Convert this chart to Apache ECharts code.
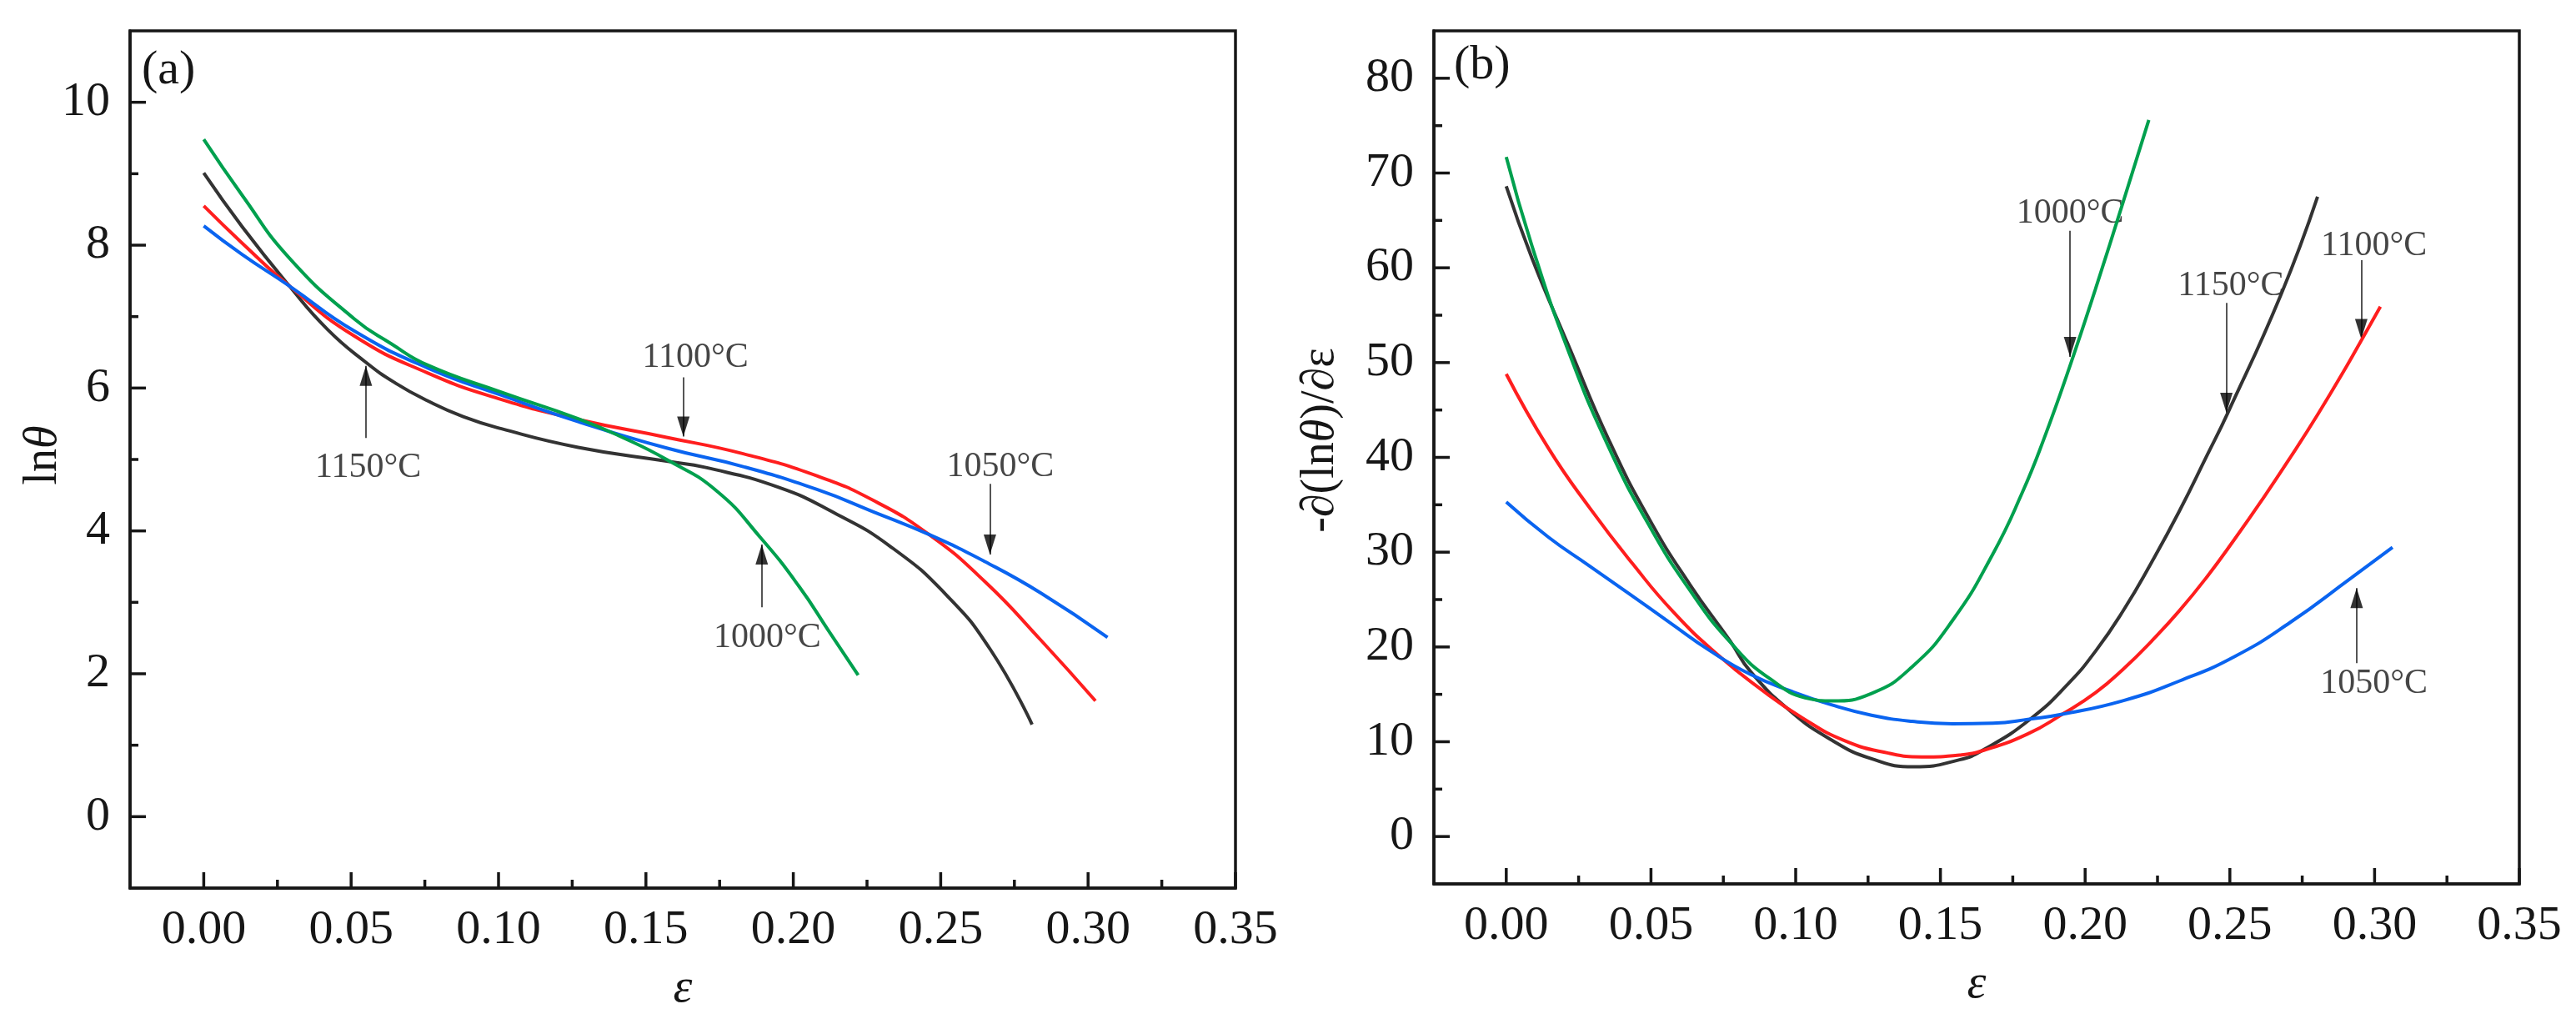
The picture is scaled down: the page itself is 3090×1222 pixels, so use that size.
<!DOCTYPE html>
<html>
<head>
<meta charset="utf-8">
<script src="https://cdn.jsdelivr.net/npm/echarts@6/dist/echarts.min.js"></script>
<style>
html, body { margin: 0; padding: 0; background: #fff; }
#main { width: 3090px; height: 1222px; }
</style>
</head>
<body>
<div id="main"></div>
<script>
// (a) ln(theta) vs strain, [strain, value]
var lnTheta1000 = [[0,9.48],[0.013,8.70],[0.029,7.82],[0.051,6.97],[0.0636,6.62],[0.076,6.32],[0.101,5.94],[0.127,5.57],[0.142,5.31],[0.157,5.00],[0.174,4.56],[0.189,3.90],[0.202,3.22],[0.212,2.60],[0.222,1.98]];
var lnTheta1050 = [[0,8.27],[0.013,7.87],[0.029,7.43],[0.051,6.80],[0.076,6.28],[0.101,5.90],[0.127,5.53],[0.157,5.16],[0.183,4.90],[0.208,4.58],[0.227,4.27],[0.246,3.95],[0.265,3.57],[0.284,3.13],[0.3066,2.51]];
var lnTheta1100 = [[0,8.55],[0.013,8.03],[0.029,7.43],[0.051,6.73],[0.076,6.21],[0.101,5.84],[0.127,5.56],[0.157,5.31],[0.183,5.08],[0.208,4.77],[0.227,4.43],[0.246,3.95],[0.265,3.29],[0.284,2.47],[0.3025,1.62]];
var lnTheta1150 = [[0,9.01],[0.013,8.26],[0.029,7.43],[0.042,6.82],[0.055,6.36],[0.065,6.07],[0.076,5.82],[0.088,5.60],[0.101,5.43],[0.127,5.17],[0.158,4.97],[0.170,4.89],[0.195,4.61],[0.214,4.25],[0.233,3.78],[0.252,3.10],[0.267,2.33],[0.281,1.29]];

// (b) -d(ln theta)/d(strain) vs strain
var dLn1000 = [[0,71.7],[0.0089,62.3],[0.0215,51.2],[0.0355,41.0],[0.0494,32.8],[0.0634,26.0],[0.0774,20.5],[0.0913,16.6],[0.1053,14.5],[0.1123,14.3],[0.1262,15.1],[0.1402,17.9],[0.1542,22.8],[0.1681,29.8],[0.1783,36.3],[0.1857,41.9],[0.1947,49.6],[0.2035,57.7],[0.2133,67.1],[0.222,75.6]];
var dLn1050 = [[0,35.3],[0.0145,31.6],[0.0285,28.6],[0.0425,25.6],[0.0564,22.6],[0.0704,19.6],[0.0844,17.1],[0.0983,15.35],[0.1123,13.9],[0.1262,12.8],[0.1402,12.15],[0.1542,11.9],[0.1681,11.95],[0.1811,12.4],[0.1921,12.9],[0.2133,14.35],[0.2325,16.4],[0.2517,19.0],[0.2709,22.6],[0.292,27.3],[0.3062,30.5]];
var dLn1100 = [[0,48.8],[0.0145,41.0],[0.029,34.6],[0.0436,28.8],[0.058,23.6],[0.073,19.2],[0.0877,15.6],[0.1024,12.5],[0.117,10.1],[0.132,8.8],[0.1436,8.4],[0.1566,8.6],[0.165,9.1],[0.18,10.8],[0.1921,12.9],[0.2037,15.2],[0.2133,17.7],[0.2229,20.6],[0.2325,23.8],[0.2421,27.4],[0.2517,31.4],[0.2613,35.6],[0.2709,40.0],[0.2805,44.6],[0.2905,49.7],[0.2957,52.5],[0.302,55.9]];
var dLn1150 = [[0,68.6],[0.0089,61.0],[0.0215,51.8],[0.0355,41.8],[0.0494,33.5],[0.0634,26.6],[0.0774,20.6],[0.0844,17.4],[0.0983,13.2],[0.1123,10.2],[0.1262,8.2],[0.1408,7.35],[0.1566,8.1],[0.1652,9.2],[0.1811,12.4],[0.1941,16.1],[0.2037,19.6],[0.2133,23.9],[0.2229,28.9],[0.2325,34.3],[0.2421,40.2],[0.2493,44.7],[0.2677,57.2],[0.2803,67.5]];

// ticks
var xMajor = [0, 0.05, 0.10, 0.15, 0.20, 0.25, 0.30, 0.35];
var xMinor = [0.025, 0.075, 0.125, 0.175, 0.225, 0.275, 0.325];
var yMajorA = [0, 2, 4, 6, 8, 10];
var yMinorA = [1, 3, 5, 7, 9];
var yMajorB = [0, 10, 20, 30, 40, 50, 60, 70, 80];
var yMinorB = [5, 15, 25, 35, 45, 55, 65, 75];

// annotations: [text, strain, value] and arrows [strain, from, to]
var labelsA = [['1150°C', 0.0558, 4.88], ['1100°C', 0.1668, 6.42], ['1050°C', 0.2702, 4.90], ['1000°C', 0.1912, 2.50]];
var arrowsA = [[0.055, 5.30, 6.31], [0.1627, 6.15, 5.32], [0.2667, 4.66, 3.67], [0.1893, 2.93, 3.81]];
var labelsB = [['1000°C', 0.1948, 65.7], ['1150°C', 0.2503, 58.1], ['1100°C', 0.2998, 62.3], ['1050°C', 0.2998, 16.1]];
var arrowsB = [[0.1948, 63.9, 50.6], [0.2488, 56.3, 44.7], [0.2954, 60.8, 52.5], [0.2938, 18.3, 26.2]];

var FONT = 'Liberation Serif';
var INK = '#161616';
var colors = { c1000: '#00A04E', c1050: '#0A64F0', c1100: '#FF1E1E', c1150: '#333333' };

var grids = [
    { left: 156, top: 37, width: 1326, height: 1028, xMin: -0.025, xMax: 0.35, yMin: -1, yMax: 11 },
    { left: 1720, top: 37, width: 1302, height: 1023, xMin: -0.025, xMax: 0.35, yMin: -5, yMax: 85 }
];

var myChart = echarts.init(document.getElementById('main'));

function labelX(i) {
    var g = grids[i];
    return {
        gridIndex: i, type: 'value', min: g.xMin, max: g.xMax, position: 'bottom',
        axisLine: { show: true, onZero: false, lineStyle: { color: INK, width: 3.5 } },
        axisTick: { show: false },
        axisLabel: { customValues: xMajor, margin: 22, fontSize: 58, fontFamily: FONT, color: INK,
            formatter: function (v) { return v.toFixed(2); } },
        splitLine: { show: false },
        name: 'ε', nameLocation: 'middle', nameGap: 92, nameMoveOverlap: false,
        nameTextStyle: { fontSize: 58, fontFamily: FONT, fontStyle: 'italic', color: INK }
    };
}
function labelY(i, ticks) {
    var g = grids[i];
    return {
        gridIndex: i, type: 'value', min: g.yMin, max: g.yMax, position: 'left',
        axisLine: { show: true, onZero: false, lineStyle: { color: INK, width: 3.5 } },
        axisTick: { show: false },
        axisLabel: { customValues: ticks, margin: 24, fontSize: 58, fontFamily: FONT, color: INK },
        splitLine: { show: false }
    };
}
function curve(data, color, i) {
    return {
        type: 'line', data: data, xAxisIndex: i, yAxisIndex: i,
        smooth: 0.5, showSymbol: false, symbol: 'none',
        lineStyle: { color: color, width: 4 }, itemStyle: { color: color }
    };
}
function arrowShafts(arrows, i) {
    return {
        type: 'lines', coordinateSystem: 'cartesian2d', xAxisIndex: i, yAxisIndex: i, silent: true,
        data: arrows.map(function (a) { return { coords: [[a[0], a[1]], [a[0], a[2]]] }; }),
        lineStyle: { color: '#555', width: 2, opacity: 1 }
    };
}
function arrowHeads(arrows, i) {
    return {
        type: 'scatter', xAxisIndex: i, yAxisIndex: i, silent: true, symbolSize: [15, 24],
        data: arrows.map(function (a) {
            var up = a[2] > a[1];
            return {
                value: [a[0], a[2]],
                symbol: up ? 'path://M5,0L10,20L0,20Z' : 'path://M0,0L10,0L5,20Z',
                symbolOffset: [0, up ? 12 : -12]
            };
        }),
        itemStyle: { color: '#000' }
    };
}
function tempLabels(labels, i) {
    return {
        type: 'scatter', xAxisIndex: i, yAxisIndex: i, silent: true, symbolSize: 1,
        itemStyle: { color: 'rgba(0,0,0,0)' },
        data: labels.map(function (l) { return { name: l[0], value: [l[1], l[2]] }; }),
        label: { show: true, position: 'inside', formatter: '{b}', fontSize: 42, fontFamily: FONT, color: INK }
    };
}

var richItalic = { i: { fontSize: 56, fontFamily: FONT, fontStyle: 'italic', fill: INK } };
var axisNames = [
    { type: 'text', x: 52, y: 546, rotation: Math.PI / 2, silent: true,
      style: { text: 'ln{i|θ}', rich: richItalic, fontSize: 56, fontFamily: FONT, fill: INK, align: 'center', verticalAlign: 'middle' } },
    { type: 'text', x: 1584, y: 528, rotation: Math.PI / 2, silent: true,
      style: { text: '-∂(ln{i|θ})/∂ε', rich: richItalic, fontSize: 56, fontFamily: FONT, fill: INK, align: 'center', verticalAlign: 'middle' } }
];

var option = {
    animation: false,
    backgroundColor: '#fff',
    title: [
        { text: '(a)', left: 170, top: 56, padding: 0, textStyle: { fontSize: 58, fontWeight: 'normal', fontFamily: FONT, color: INK } },
        { text: '(b)', left: 1744, top: 50, padding: 0, textStyle: { fontSize: 58, fontWeight: 'normal', fontFamily: FONT, color: INK } }
    ],
    graphic: axisNames,
    grid: grids.map(function (g) {
        return { left: g.left, top: g.top, width: g.width, height: g.height, show: true,
                 borderColor: INK, borderWidth: 3.5, outerBoundsMode: 'none' };
    }),
    xAxis: [labelX(0), labelX(1)],
    yAxis: [labelY(0, yMajorA), labelY(1, yMajorB)],
    series: [
        curve(lnTheta1150, colors.c1150, 0),
        curve(lnTheta1100, colors.c1100, 0),
        curve(lnTheta1050, colors.c1050, 0),
        curve(lnTheta1000, colors.c1000, 0),
        curve(dLn1150, colors.c1150, 1),
        curve(dLn1100, colors.c1100, 1),
        curve(dLn1050, colors.c1050, 1),
        curve(dLn1000, colors.c1000, 1),
        arrowShafts(arrowsA, 0),
        arrowHeads(arrowsA, 0),
        tempLabels(labelsA, 0),
        arrowShafts(arrowsB, 1),
        arrowHeads(arrowsB, 1),
        tempLabels(labelsB, 1)
    ]
};

myChart.setOption(option);

// inward tick marks: positions come from the chart's own scales
var tickGraphics = [];
function addTicks(i, xs, ys, len) {
    var g = grids[i];
    xs.forEach(function (v) {
        var p = myChart.convertToPixel({ xAxisIndex: i, yAxisIndex: i }, [v, g.yMin]);
        if (!p || isNaN(p[0])) { return; }
        tickGraphics.push({ type: 'line', silent: true, z: 50,
            shape: { x1: p[0], y1: p[1], x2: p[0], y2: p[1] - len },
            style: { stroke: INK, lineWidth: 3.5 } });
    });
    ys.forEach(function (v) {
        var p = myChart.convertToPixel({ xAxisIndex: i, yAxisIndex: i }, [g.xMin, v]);
        if (!p || isNaN(p[0])) { return; }
        tickGraphics.push({ type: 'line', silent: true, z: 50,
            shape: { x1: p[0], y1: p[1], x2: p[0] + len, y2: p[1] },
            style: { stroke: INK, lineWidth: 3.5 } });
    });
}
addTicks(0, xMajor, yMajorA, 19);
addTicks(0, xMinor, yMinorA, 10);
addTicks(1, xMajor, yMajorB, 19);
addTicks(1, xMinor, yMinorB, 10);
myChart.setOption({ graphic: axisNames.concat(tickGraphics) });
</script>
</body>
</html>
